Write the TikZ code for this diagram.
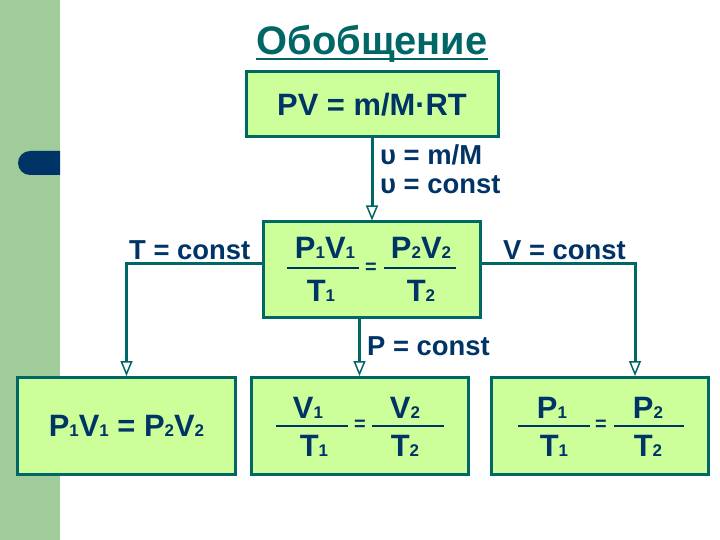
\documentclass[tikz,border=0pt]{standalone}
\usepackage{fontspec}
\setmainfont{Liberation Sans}
\usetikzlibrary{arrows.meta}
\definecolor{band}{RGB}{160,204,153}
\definecolor{boxfill}{RGB}{204,255,153}
\definecolor{tealc}{RGB}{0,102,102}
\definecolor{navy}{RGB}{0,51,102}
\newcommand\sbs[1]{{\fontsize{17}{17}\selectfont #1}}
\begin{document}
\begin{tikzpicture}[x=1bp,y=-1bp,
 box/.style={draw=tealc,line width=3bp,fill=boxfill,inner sep=0pt,text=navy,font=\fontsize{31}{34}\selectfont\bfseries},
 conn/.style={draw=tealc,line width=3bp,-{Triangle[width=12bp,length=15bp,fill=white,line width=1.5bp]}},
 lbl/.style={text=navy,font=\fontsize{27.5}{30}\selectfont\bfseries,inner sep=0pt,anchor=west},
 txt/.style={text=navy,font=\fontsize{31}{33}\selectfont\bfseries,inner sep=0pt},
 eqs/.style={text=navy,font=\fontsize{20}{20}\selectfont\bfseries,inner sep=0pt},
 bar/.style={draw=navy,line width=2bp}]
\fill[white] (0,0) rectangle (720,540);
\useasboundingbox (0,0) rectangle (720,540);
\fill[band] (0,0) rectangle (60,540);
\begin{scope}
\clip (0,0) rectangle (60,540);
\fill[navy, rounded corners=12bp] (18,151) rectangle (80,175);
\end{scope}
% title
\node[text=tealc,font=\fontsize{40}{42}\selectfont\bfseries,inner sep=0pt,anchor=base] (title) at (372,55) {Обобщение};
\draw[tealc,line width=2.5bp] ([yshift=-4bp]title.base west) -- ([yshift=-4bp]title.base east);
% boxes
\node[box, minimum width=252bp, minimum height=65bp] (top) at (372,104.5) {PV = m/M·RT};
\node[box, minimum width=217bp, minimum height=95bp] (mid) at (371.5,269.5) {};
\node[box, minimum width=217bp, minimum height=97bp] (b1) at (126.5,426) {P\sbs1V\sbs1 = P\sbs2V\sbs2};
\node[box, minimum width=217bp, minimum height=97bp] (b2) at (359.5,426) {};
\node[box, minimum width=217bp, minimum height=97bp] (b3) at (599.5,426) {};
% middle fraction
\node[txt] (mn1) at (325,248) {P\sbs1V\sbs1};
\node[txt] (mn2) at (421,248) {P\sbs2V\sbs2};
\node[eqs] (meq) at (371,268) {=};
\node[txt] (md1) at (321,291) {T\sbs1};
\node[txt] (md2) at (421,291) {T\sbs2};
\draw[bar] (287,268) -- (359,268);
\draw[bar] (384,268) -- (456,268);
% bottom 2
\node[txt] (vn1) at (308,408) {V\sbs1};
\node[txt] (vn2) at (405,408) {V\sbs2};
\node[eqs] (veq) at (360,425) {=};
\node[txt] (vd1) at (314,446) {T\sbs1};
\node[txt] (vd2) at (405,446) {T\sbs2};
\draw[bar] (276,426) -- (348,426);
\draw[bar] (372,426) -- (444,426);
% bottom 3
\node[txt] (pn1) at (552,408) {P\sbs1};
\node[txt] (pn2) at (648,408) {P\sbs2};
\node[eqs] (peq) at (601,425) {=};
\node[txt] (pd1) at (554,446) {T\sbs1};
\node[txt] (pd2) at (648,446) {T\sbs2};
\draw[bar] (518,426) -- (590,426);
\draw[bar] (614,426) -- (684,426);
% labels
\node[lbl] (l1) at (380,155) {υ = m/M};
\node[lbl] (l2) at (380,185) {υ = const};
\node[lbl] (lT) at (129,250) {T = const};
\node[lbl] (lV) at (503,250) {V = const};
\node[lbl] (lP) at (367,346) {P = const};
% connectors
\draw[conn] (top.south) -- (top.south |- mid.north);
\draw[conn] ([yshift=5.5bp]mid.west) -| (b1.north);
\draw[conn] ([yshift=5.5bp]mid.east) -| (b3.north -| 635,0);
\draw[conn] (mid.south -| b2.north) -- (b2.north);
\end{tikzpicture}
\end{document}
